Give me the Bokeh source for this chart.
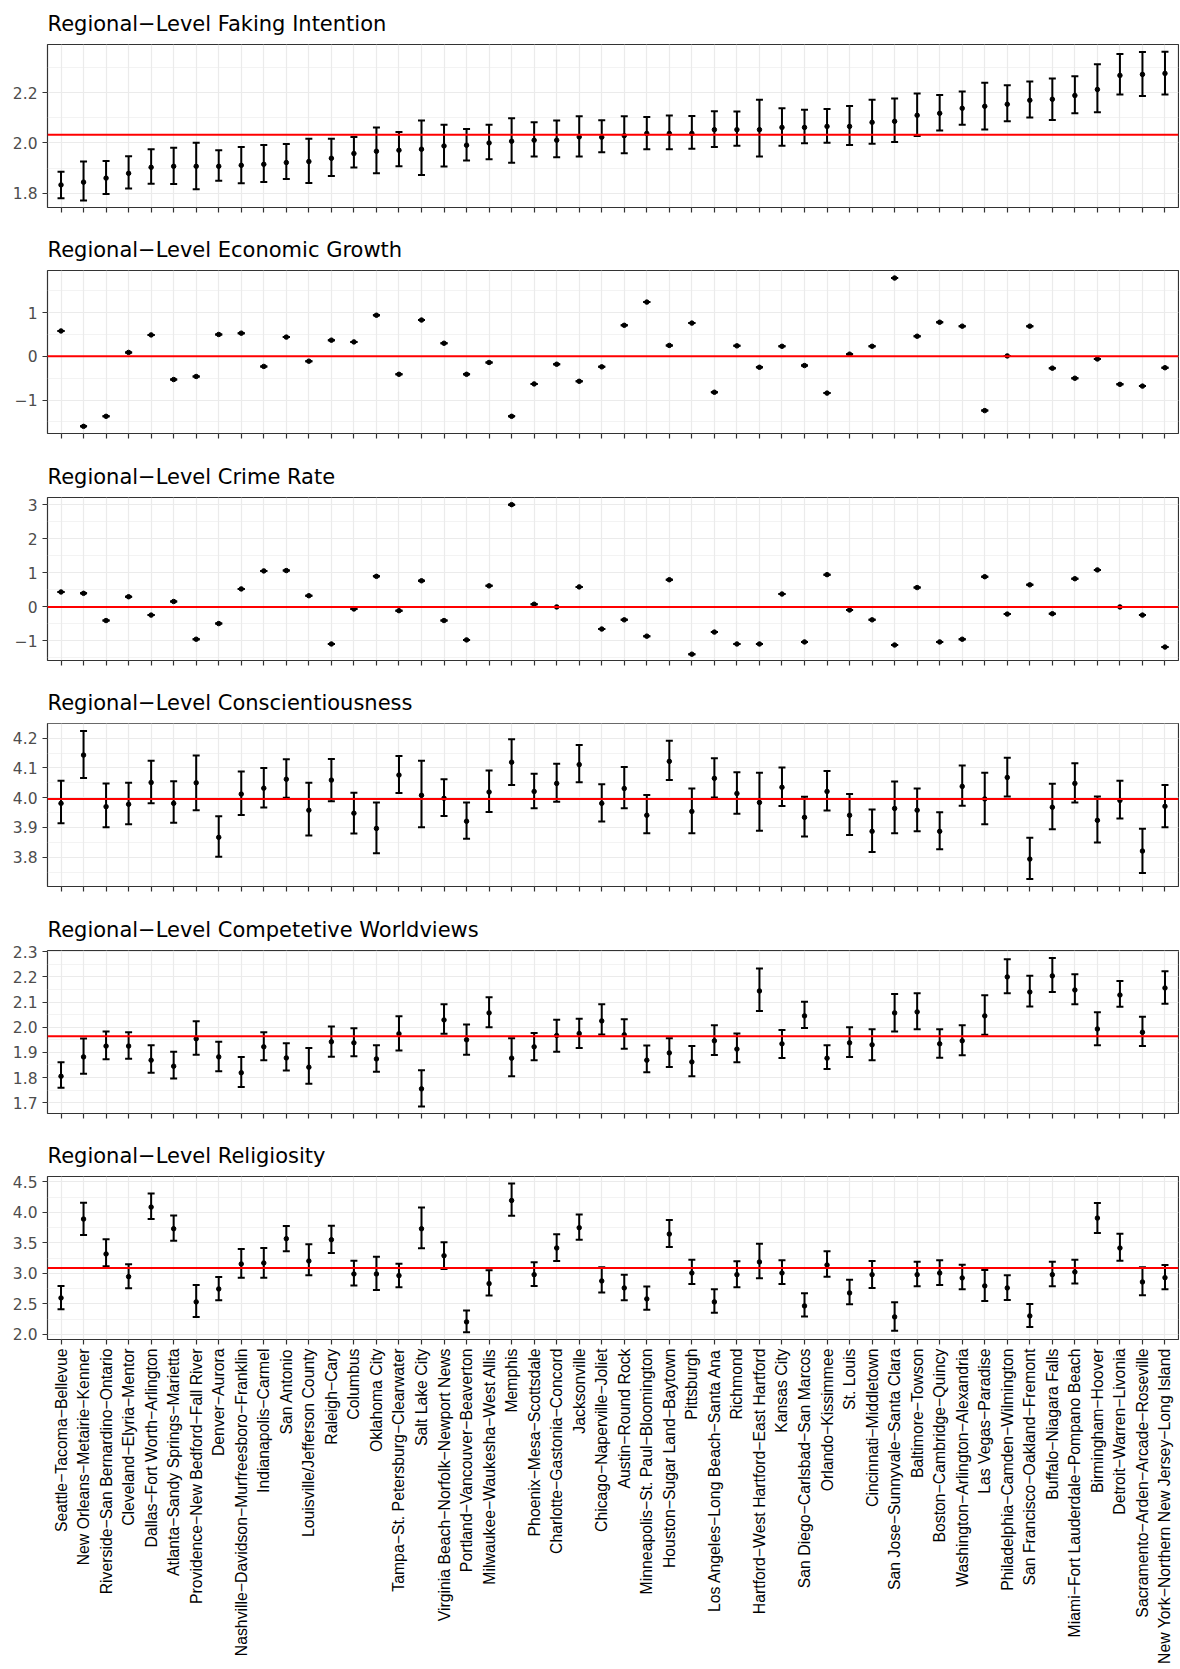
import math
from bokeh.plotting import figure
from bokeh.layouts import column
from bokeh.models import ColumnDataSource, Whisker, TeeHead, Span, Range1d, FixedTicker
from bokeh.embed import file_html
from bokeh.resources import INLINE

regions = [
    "Seattle−Tacoma−Bellevue", "New Orleans−Metairie−Kenner", "Riverside−San Bernardino−Ontario",
    "Cleveland−Elyria−Mentor", "Dallas−Fort Worth−Arlington", "Atlanta−Sandy Springs−Marietta",
    "Providence−New Bedford−Fall River", "Denver−Aurora", "Nashville−Davidson−Murfreesboro−Franklin",
    "Indianapolis−Carmel", "San Antonio", "Louisville/Jefferson County", "Raleigh−Cary", "Columbus",
    "Oklahoma City", "Tampa−St. Petersburg−Clearwater", "Salt Lake City",
    "Virginia Beach−Norfolk−Newport News", "Portland−Vancouver−Beaverton", "Milwaukee−Waukesha−West Allis",
    "Memphis", "Phoenix−Mesa−Scottsdale", "Charlotte−Gastonia−Concord", "Jacksonville",
    "Chicago−Naperville−Joliet", "Austin−Round Rock", "Minneapolis−St. Paul−Bloomington",
    "Houston−Sugar Land−Baytown", "Pittsburgh", "Los Angeles−Long Beach−Santa Ana", "Richmond",
    "Hartford−West Hartford−East Hartford", "Kansas City", "San Diego−Carlsbad−San Marcos",
    "Orlando−Kissimmee", "St. Louis", "Cincinnati−Middletown", "San Jose−Sunnyvale−Santa Clara",
    "Baltimore−Towson", "Boston−Cambridge−Quincy", "Washington−Arlington−Alexandria",
    "Las Vegas−Paradise", "Philadelphia−Camden−Wilmington", "San Francisco−Oakland−Fremont",
    "Buffalo−Niagara Falls", "Miami−Fort Lauderdale−Pompano Beach", "Birmingham−Hoover",
    "Detroit−Warren−Livonia", "Sacramento−Arden−Arcade−Roseville",
    "New York−Northern New Jersey−Long Island",
]

titles = [
    "Regional−Level Faking Intention", "Regional−Level Economic Growth", "Regional−Level Crime Rate",
    "Regional−Level Conscientiousness", "Regional−Level Competetive Worldviews", "Regional−Level Religiosity",
]

faking_mean = [1.833, 1.844, 1.860, 1.879, 1.903, 1.907, 1.907, 1.907, 1.911, 1.915, 1.922, 1.926, 1.939,
               1.958, 1.967, 1.971, 1.975, 1.988, 1.991, 2.000, 2.007, 2.011, 2.011, 2.024, 2.023, 2.029,
               2.038, 2.038, 2.038, 2.053, 2.053, 2.053, 2.062, 2.062, 2.066, 2.066, 2.082, 2.086, 2.110,
               2.118, 2.138, 2.146, 2.154, 2.170, 2.174, 2.189, 2.213, 2.269, 2.273, 2.277]
faking_lo = [1.780, 1.771, 1.797, 1.819, 1.838, 1.837, 1.816, 1.850, 1.840, 1.845, 1.856, 1.841, 1.868,
             1.902, 1.879, 1.907, 1.872, 1.906, 1.930, 1.935, 1.921, 1.946, 1.943, 1.946, 1.963, 1.959,
             1.975, 1.975, 1.977, 1.984, 1.989, 1.946, 1.989, 1.999, 2.001, 1.992, 1.997, 2.004, 2.028,
             2.050, 2.072, 2.054, 2.086, 2.101, 2.091, 2.118, 2.122, 2.193, 2.187, 2.193]
faking_hi = [1.885, 1.926, 1.928, 1.947, 1.975, 1.981, 2.001, 1.971, 1.984, 1.992, 1.996, 2.017, 2.017,
             2.024, 2.062, 2.044, 2.089, 2.072, 2.056, 2.072, 2.098, 2.082, 2.089, 2.106, 2.090, 2.106,
             2.103, 2.109, 2.107, 2.126, 2.125, 2.172, 2.138, 2.132, 2.135, 2.147, 2.172, 2.177, 2.197,
             2.191, 2.205, 2.240, 2.230, 2.245, 2.257, 2.266, 2.313, 2.354, 2.362, 2.363]

econ_growth = [0.58, -1.60, -1.37, 0.09, 0.49, -0.53, -0.46, 0.50, 0.53, -0.23, 0.44, -0.11, 0.37, 0.33,
               0.94, -0.41, 0.83, 0.30, -0.41, -0.14, -1.37, -0.63, -0.18, -0.57, -0.24, 0.71, 1.24, 0.25,
               0.76, -0.82, 0.24, -0.25, 0.23, -0.21, -0.84, 0.05, 0.23, 1.79, 0.46, 0.78, 0.69, -1.24,
               0.01, 0.69, -0.27, -0.50, -0.06, -0.64, -0.68, -0.26]

crime_rate = [0.44, 0.40, -0.40, 0.30, -0.24, 0.16, -0.95, -0.49, 0.53, 1.06, 1.07, 0.33, -1.09, -0.06,
              0.90, -0.11, 0.77, -0.40, -0.97, 0.62, 3.01, 0.08, 0.00, 0.59, -0.65, -0.38, -0.86, 0.80,
              -1.39, -0.74, -1.09, -1.09, 0.38, -1.03, 0.95, -0.09, -0.38, -1.12, 0.57, -1.03, -0.95,
              0.89, -0.21, 0.65, -0.20, 0.83, 1.09, 0.00, -0.24, -1.18]

consc_mean = [3.981, 4.143, 3.970, 3.978, 4.051, 3.981, 4.050, 3.867, 4.012, 4.032, 4.062, 3.958, 4.059,
              3.948, 3.897, 4.076, 4.008, 3.998, 3.921, 4.019, 4.119, 4.021, 4.048, 4.111, 3.981, 4.031,
              3.941, 4.122, 3.954, 4.065, 4.014, 3.984, 4.035, 3.934, 4.021, 3.941, 3.887, 3.964, 3.958,
              3.887, 4.038, 3.996, 4.068, 3.794, 3.968, 4.048, 3.924, 3.991, 3.821, 3.971]
consc_lo = [3.914, 4.066, 3.901, 3.911, 3.981, 3.916, 3.958, 3.802, 3.942, 3.967, 4.000, 3.873, 3.988,
            3.880, 3.814, 4.016, 3.901, 3.939, 3.862, 3.952, 4.043, 3.965, 3.986, 4.052, 3.920, 3.965,
            3.881, 4.059, 3.881, 4.001, 3.946, 3.889, 3.972, 3.870, 3.957, 3.875, 3.818, 3.881, 3.887,
            3.827, 3.973, 3.911, 4.004, 3.727, 3.894, 3.984, 3.850, 3.930, 3.747, 3.901]
consc_hi = [4.057, 4.224, 4.048, 4.050, 4.124, 4.055, 4.142, 3.938, 4.088, 4.100, 4.129, 4.050, 4.130,
            4.017, 3.984, 4.140, 4.124, 4.062, 3.984, 4.091, 4.196, 4.080, 4.114, 4.177, 4.045, 4.103,
            4.009, 4.191, 4.031, 4.132, 4.085, 4.084, 4.101, 4.003, 4.090, 4.012, 3.960, 4.054, 4.031,
            3.951, 4.108, 4.084, 4.134, 3.866, 4.047, 4.116, 4.004, 4.057, 3.896, 4.043]

comp_mean = [1.805, 1.882, 1.925, 1.925, 1.869, 1.845, 1.954, 1.882, 1.819, 1.922, 1.878, 1.841, 1.942,
             1.938, 1.874, 1.974, 1.755, 2.029, 1.950, 2.057, 1.877, 1.922, 1.967, 1.975, 2.025, 1.970,
             1.869, 1.898, 1.862, 1.946, 1.913, 2.144, 1.934, 2.045, 1.877, 1.938, 1.930, 2.057, 2.061,
             1.934, 1.946, 2.045, 2.200, 2.140, 2.204, 2.148, 1.993, 2.128, 1.980, 2.156]
comp_lo = [1.759, 1.815, 1.873, 1.875, 1.819, 1.796, 1.891, 1.825, 1.762, 1.869, 1.828, 1.775, 1.883,
           1.885, 1.823, 1.907, 1.685, 1.974, 1.891, 2.000, 1.805, 1.869, 1.902, 1.917, 1.971, 1.914,
           1.821, 1.842, 1.805, 1.890, 1.861, 2.064, 1.878, 1.997, 1.834, 1.882, 1.869, 1.983, 1.992,
           1.879, 1.889, 1.970, 2.135, 2.082, 2.140, 2.091, 1.928, 2.081, 1.925, 2.093]
comp_hi = [1.861, 1.955, 1.983, 1.980, 1.928, 1.902, 2.024, 1.942, 1.882, 1.980, 1.936, 1.917, 2.003,
           1.996, 1.928, 2.044, 1.829, 2.091, 2.011, 2.119, 1.956, 1.977, 2.030, 2.034, 2.091, 2.032,
           1.927, 1.956, 1.925, 2.008, 1.975, 2.233, 1.989, 2.101, 1.928, 2.000, 1.992, 2.132, 2.135,
           1.992, 2.008, 2.127, 2.270, 2.205, 2.275, 2.211, 2.060, 2.184, 2.042, 2.223]

relig_mean = [2.596, 3.890, 3.317, 2.945, 4.086, 3.731, 2.531, 2.743, 3.153, 3.169, 3.568, 3.202, 3.551,
              2.989, 2.989, 2.962, 3.731, 3.289, 2.203, 2.831, 4.195, 2.978, 3.415, 3.748, 2.874, 2.760,
              2.580, 3.644, 3.005, 2.531, 2.978, 3.186, 3.005, 2.465, 3.136, 2.678, 2.978, 2.285, 2.978,
              3.005, 2.924, 2.793, 2.760, 2.301, 2.978, 3.022, 3.906, 3.415, 2.858, 2.929]
relig_lo = [2.410, 3.628, 3.115, 2.754, 3.890, 3.535, 2.285, 2.558, 2.929, 2.929, 3.360, 2.967, 3.333,
            2.798, 2.727, 2.771, 3.409, 3.071, 2.034, 2.634, 3.944, 2.793, 3.202, 3.551, 2.683, 2.558,
            2.400, 3.431, 2.825, 2.351, 2.771, 2.918, 2.825, 2.290, 2.945, 2.492, 2.760, 2.056, 2.787,
            2.809, 2.738, 2.547, 2.563, 2.121, 2.787, 2.831, 3.660, 3.207, 2.640, 2.738]
relig_hi = [2.793, 4.157, 3.557, 3.147, 4.310, 3.950, 2.809, 2.940, 3.398, 3.415, 3.775, 3.475, 3.781,
            3.207, 3.273, 3.158, 4.081, 3.508, 2.389, 3.049, 4.474, 3.180, 3.639, 3.966, 3.098, 2.978,
            2.782, 3.873, 3.224, 2.738, 3.197, 3.486, 3.213, 2.672, 3.360, 2.896, 3.202, 2.525, 3.191,
            3.213, 3.142, 3.055, 2.967, 2.498, 3.191, 3.224, 4.152, 3.650, 3.098, 3.136]

# reference (red) lines: overall level of each variable
ref_lines = [2.033, 0.0, 0.0, 3.9955, 1.964, 3.087]

# y-axis ticks and their labels
faking_ticks = [1.8, 2.0, 2.2]
faking_tick_labels = ["1.8", "2.0", "2.2"]
econ_ticks = [-1, 0, 1]
econ_tick_labels = ["−1", "0", "1"]
crime_ticks = [-1, 0, 1, 2, 3]
crime_tick_labels = ["−1", "0", "1", "2", "3"]
consc_ticks = [3.8, 3.9, 4.0, 4.1, 4.2]
consc_tick_labels = ["3.8", "3.9", "4.0", "4.1", "4.2"]
comp_ticks = [1.7, 1.8, 1.9, 2.0, 2.1, 2.2, 2.3]
comp_tick_labels = ["1.7", "1.8", "1.9", "2.0", "2.1", "2.2", "2.3"]
relig_ticks = [2.0, 2.5, 3.0, 3.5, 4.0, 4.5]
relig_tick_labels = ["2.0", "2.5", "3.0", "3.5", "4.0", "4.5"]

TITLE_FONT = "DejaVu Sans"
TICK_FONT = "DejaVu Sans"
XLAB_FONT = "Liberation Sans"
GRID = "#EBEBEB"
DARK = "#333333"

x = list(range(1, len(regions) + 1))

panels = [
    dict(mean=faking_mean, lo=faking_lo, hi=faking_hi, yr=(1.743, 2.392),
         ticks=faking_ticks, labels=faking_tick_labels, minor=[1.9, 2.1, 2.3]),
    dict(mean=econ_growth, lo=econ_growth, hi=econ_growth, yr=(-1.763, 1.962),
         ticks=econ_ticks, labels=econ_tick_labels, minor=[-1.5, -0.5, 0.5, 1.5]),
    dict(mean=crime_rate, lo=crime_rate, hi=crime_rate, yr=(-1.576, 3.22),
         ticks=crime_ticks, labels=crime_tick_labels, minor=[-1.5, -0.5, 0.5, 1.5, 2.5]),
    dict(mean=consc_mean, lo=consc_lo, hi=consc_hi, yr=(3.702, 4.249),
         ticks=consc_ticks, labels=consc_tick_labels, minor=[3.75, 3.85, 3.95, 4.05, 4.15, 4.25]),
    dict(mean=comp_mean, lo=comp_lo, hi=comp_hi, yr=(1.657, 2.305),
         ticks=comp_ticks, labels=comp_tick_labels, minor=[1.75, 1.85, 1.95, 2.05, 2.15, 2.25]),
    dict(mean=relig_mean, lo=relig_lo, hi=relig_hi, yr=(1.914, 4.588),
         ticks=relig_ticks, labels=relig_tick_labels, minor=[2.25, 2.75, 3.25, 3.75, 4.25]),
]

top_borders = [44, 44, 44, 44, 44, 44]
bottom_borders = [19, 20, 19, 20, 19, 0]

figs = []
for i, pn in enumerate(panels):
    last = i == len(panels) - 1
    p = figure(frame_width=1131, frame_height=163,
               x_range=Range1d(0.4, len(regions) + 0.6), y_range=Range1d(*pn["yr"]),
               output_backend="svg", toolbar_location=None, title=titles[i],
               min_border_left=47, min_border_right=1, min_border_top=top_borders[i],
               min_border_bottom=bottom_borders[i],
               background_fill_color="white", border_fill_color="white")
    p.title.text_font = TITLE_FONT
    p.title.text_font_size = "21px"
    p.title.text_font_style = "normal"
    p.title.text_color = "black"
    p.title.standoff = 18

    p.outline_line_color = DARK
    p.outline_line_width = 1.2

    p.xaxis.ticker = FixedTicker(ticks=x)
    p.yaxis.ticker = FixedTicker(ticks=pn["ticks"], minor_ticks=pn["minor"])
    p.yaxis.major_label_overrides = {t: lab for t, lab in zip(pn["ticks"], pn["labels"])}

    for ax in (p.xaxis, p.yaxis):
        ax.axis_line_color = None
        ax.major_tick_line_color = DARK
        ax.major_tick_line_width = 1.2
        ax.major_tick_out = 5
        ax.major_tick_in = 0
        ax.minor_tick_out = 0
        ax.minor_tick_in = 0

    p.yaxis.major_label_text_font = TICK_FONT
    p.yaxis.major_label_text_font_size = "15.5px"
    p.yaxis.major_label_text_color = "#4D4D4D"
    p.yaxis.major_label_standoff = 5

    if last:
        p.xaxis.major_label_overrides = {xi: name for xi, name in zip(x, regions)}
        p.xaxis.major_label_orientation = math.pi / 2
        p.xaxis.major_label_text_font = XLAB_FONT
        p.xaxis.major_label_text_font_size = "15.8px"
        p.xaxis.major_label_text_color = "black"
        p.xaxis.major_label_standoff = 4
    else:
        # tick marks only, no tick labels on the upper panels
        p.xaxis.major_label_text_font_size = "1px"
        p.xaxis.major_label_text_color = None
        p.xaxis.major_label_standoff = 0

    p.xgrid.grid_line_color = GRID
    p.xgrid.grid_line_width = 1.2
    p.ygrid.grid_line_color = GRID
    p.ygrid.grid_line_width = 1.2
    p.ygrid.minor_grid_line_color = GRID
    p.ygrid.minor_grid_line_width = 0.6

    src = ColumnDataSource(dict(x=x, mean=pn["mean"], lo=pn["lo"], hi=pn["hi"]))
    w = Whisker(base="x", lower="lo", upper="hi", source=src, dimension="height",
                line_color="black", line_width=2, level="glyph",
                upper_head=TeeHead(size=7, line_color="black", line_width=2),
                lower_head=TeeHead(size=7, line_color="black", line_width=2))
    p.add_layout(w)
    p.scatter("x", "mean", source=src, size=4.5, color="black")

    p.add_layout(Span(location=ref_lines[i], dimension="width", line_color="red",
                      line_width=2, level="overlay"))
    figs.append(p)

layout = column(*figs, spacing=0)
open("out.html", "w").write(file_html(layout, INLINE, "Regional-Level Indicators"))
